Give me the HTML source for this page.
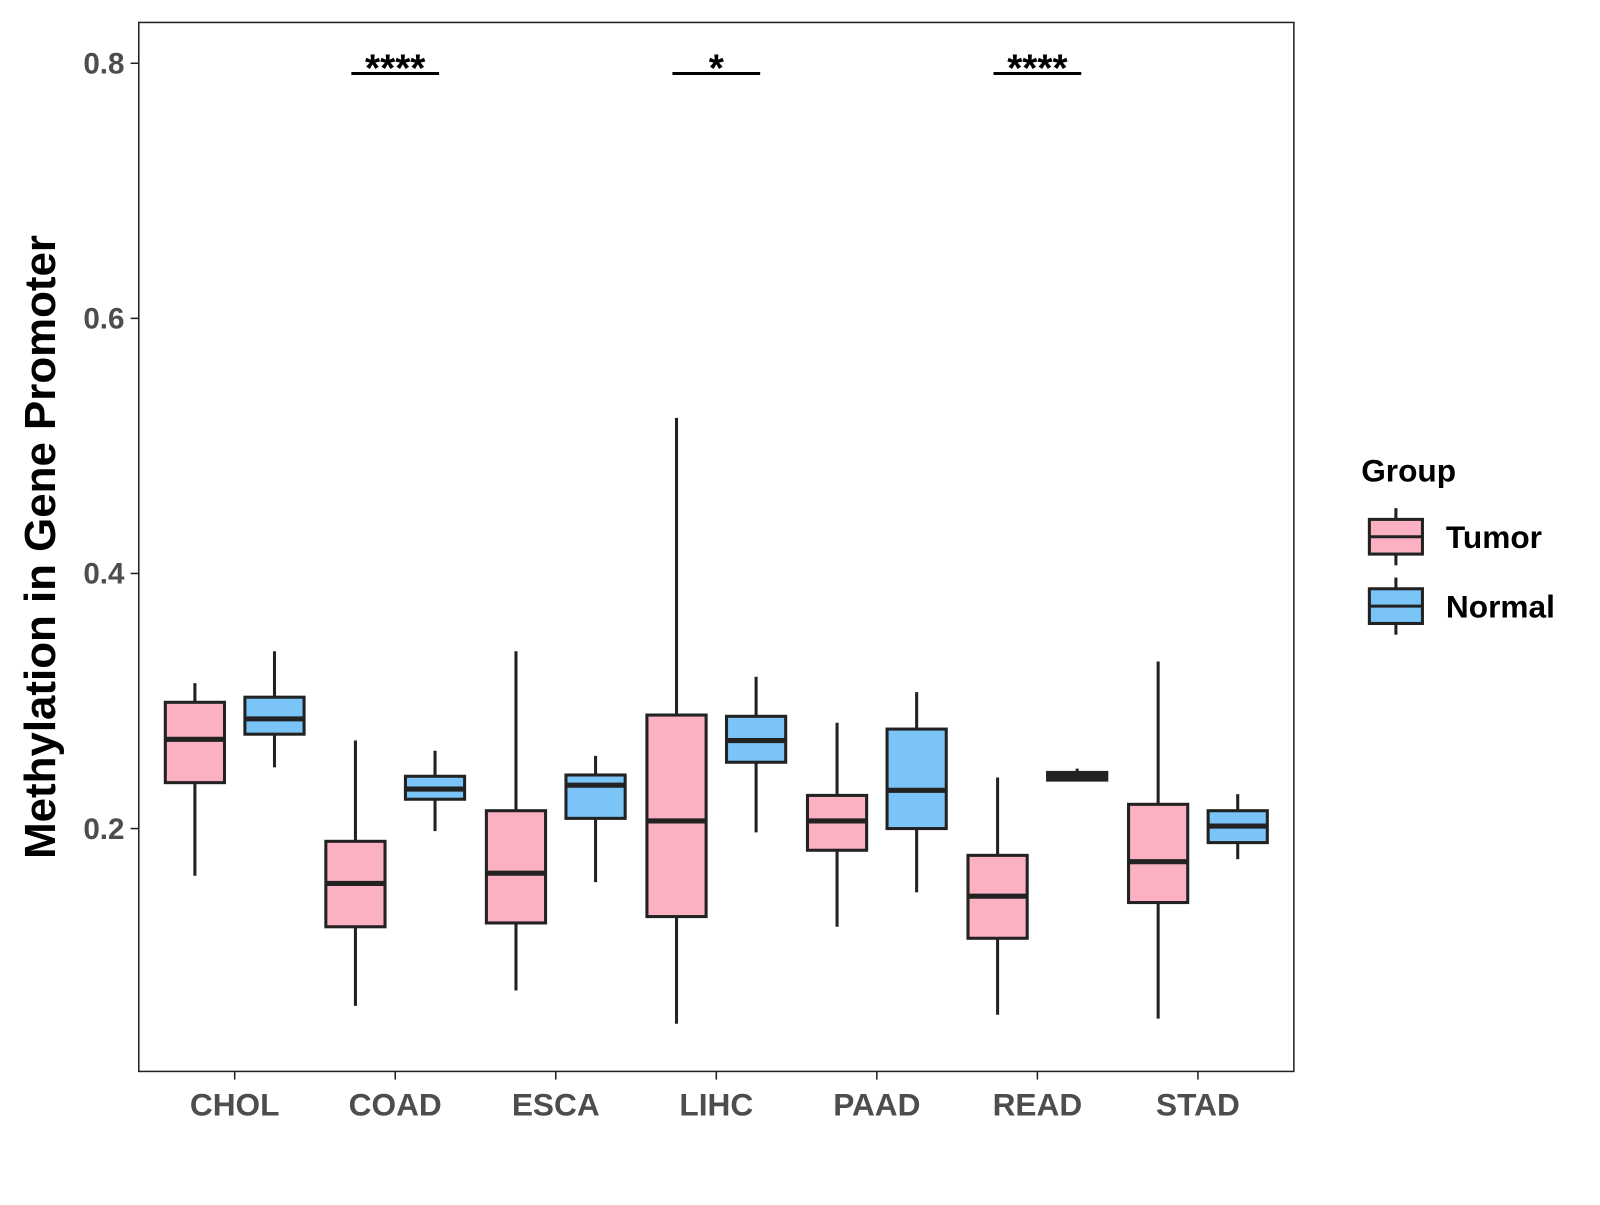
<!DOCTYPE html>
<html><head><meta charset="utf-8"><style>
body{margin:0;background:#fff;}
svg text{font-family:"Liberation Sans",Arial,sans-serif;font-weight:bold;}
</style></head><body>
<svg id="chart" width="1600" height="1200" xmlns="http://www.w3.org/2000/svg">
<rect x="0" y="0" width="1600" height="1200" fill="#fff"/>
<g id="plot" transform="scale(1.0204)"></g>
</svg>
<script>
const categories = ["CHOL","COAD","ESCA","LIHC","PAAD","READ","STAD"];
// [low, q1, median, q3, high]
const tumorStats = [
 [0.163,0.236,0.270,0.299,0.314],
 [0.061,0.123,0.157,0.190,0.269],
 [0.073,0.126,0.165,0.214,0.339],
 [0.047,0.131,0.206,0.289,0.522],
 [0.123,0.183,0.206,0.226,0.283],
 [0.054,0.114,0.147,0.179,0.240],
 [0.051,0.142,0.174,0.219,0.331]
];
const normalStats = [
 [0.248,0.274,0.286,0.303,0.339],
 [0.198,0.223,0.231,0.241,0.261],
 [0.158,0.208,0.234,0.242,0.257],
 [0.197,0.252,0.269,0.288,0.319],
 [0.150,0.200,0.230,0.278,0.307],
 [0.237,0.238,0.241,0.244,0.247],
 [0.176,0.189,0.202,0.214,0.227]
];
const yTicks = [0.2,0.4,0.6,0.8];
const sigCats = ["COAD","LIHC","READ"];
const sigLabels = ["****","*","****"];
const sigLevel = 0.792;

const NS="http://www.w3.org/2000/svg";
const g=document.getElementById('plot');
const L=136,R=1268,T=22,B=1050;
const y=v=>812-(v-0.2)*1250;
const x=i=>230+i*157.33;
function mk(tag,attrs,parent){const e=document.createElementNS(NS,tag);for(const k in attrs)e.setAttribute(k,attrs[k]);(parent||g).appendChild(e);return e;}

const frame=mk('rect',{x:L,y:T,width:R-L,height:B-T,fill:'none',stroke:'#222','stroke-width':1.5});



yTicks.forEach(t=>{
 const tk=mk('line',{x1:L-8,x2:L,y1:y(t),y2:y(t),stroke:'#222','stroke-width':1.5});
 
 
 const lb=mk('text',{x:L-14,y:y(t)+10,'text-anchor':'end','font-size':29,fill:'#4d4d4d'});
 lb.textContent=t.toFixed(1);
 
 
});
categories.forEach((c,i)=>{
 const tk=mk('line',{x1:x(i),x2:x(i),y1:B,y2:B+8,stroke:'#222','stroke-width':1.5});
 
 
 const lb=mk('text',{x:x(i),y:1093,'text-anchor':'middle','font-size':31,fill:'#4d4d4d'});
 lb.textContent=c;
 
 
});
const yt=mk('text',{x:0,y:0,transform:'translate(54,536) rotate(-90)','text-anchor':'middle','font-size':43,fill:'#000'});
yt.textContent='Methylation in Gene Promoter';



function box(cx,s,fill,name){
 const bw=58,grp=mk('g',{});
 
 
 mk('line',{x1:cx,x2:cx,y1:y(s[4]),y2:y(s[3]),stroke:'#222','stroke-width':3},grp);
 mk('line',{x1:cx,x2:cx,y1:y(s[1]),y2:y(s[0]),stroke:'#222','stroke-width':3},grp);
 mk('rect',{x:cx-bw/2,y:y(s[3]),width:bw,height:Math.max(1,y(s[1])-y(s[3])),fill:fill,stroke:'#222','stroke-width':3},grp);
 mk('line',{x1:cx-bw/2,x2:cx+bw/2,y1:y(s[2]),y2:y(s[2]),stroke:'#222','stroke-width':5},grp);
}
categories.forEach((c,i)=>{
 box(x(i)-39,tumorStats[i],'#FCB1C3','box-tumor-'+c.toLowerCase());
 box(x(i)+39,normalStats[i],'#7AC4F8','box-normal-'+c.toLowerCase());
});
sigCats.forEach((c,k)=>{
 const i=categories.indexOf(c);
 const ln=mk('line',{x1:x(i)-43,x2:x(i)+43,y1:y(sigLevel),y2:y(sigLevel),stroke:'#000','stroke-width':3});
 
 
 const tx=mk('text',{x:x(i),y:y(sigLevel)+8,'text-anchor':'middle','font-size':38,fill:'#000'});
 tx.textContent=sigLabels[k];
 
 
});
// legend
const lt=mk('text',{x:1334,y:472,'font-size':31,fill:'#000'});
lt.textContent='Group';


[['Tumor','#FCB1C3',526],['Normal','#7AC4F8',594]].forEach(([n,f,cy])=>{
 const eg=mk('g',{});
 
 
 mk('line',{x1:1368,x2:1368,y1:cy-28,y2:cy+28,stroke:'#222','stroke-width':3},eg);
 mk('rect',{x:1342,y:cy-17,width:52,height:34,fill:f,stroke:'#222','stroke-width':3},eg);
 mk('line',{x1:1342,x2:1394,y1:cy,y2:cy,stroke:'#222','stroke-width':3},eg);
 const t=mk('text',{x:1417,y:cy+11,'font-size':31,fill:'#000'},eg);
 t.textContent=n;
});
</script>
</body></html>
